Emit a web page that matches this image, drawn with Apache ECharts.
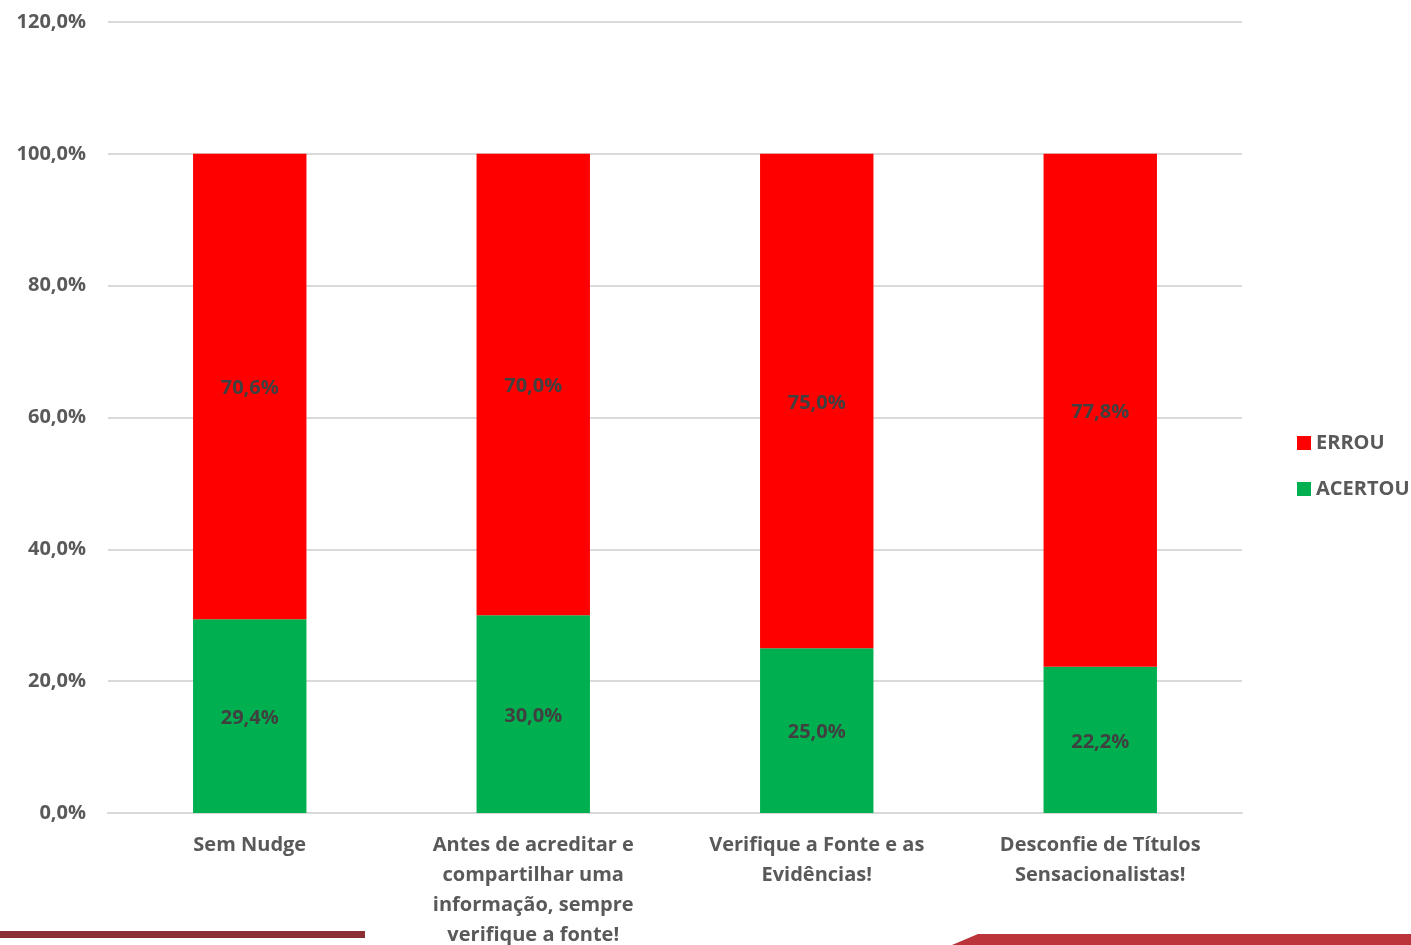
<!DOCTYPE html>
<html><head><meta charset="utf-8">
<script src="https://cdn.jsdelivr.net/npm/echarts@6/dist/echarts.min.js"></script>
<style>html,body{margin:0;padding:0;background:#fff}#c{width:1411px;height:945px}</style>
</head><body><div id="c"></div>
<script>
const categories = ['Sem Nudge', 'Antes de acreditar e\ncompartilhar uma\ninformação, sempre\nverifique a fonte!', 'Verifique a Fonte e as\nEvidências!', 'Desconfie de Títulos\nSensacionalistas!'];
const acertou = [29.4, 30.0, 25.0, 22.2];
const errou = [70.6, 70.0, 75.0, 77.8];
const yTicks = [0, 20, 40, 60, 80, 100, 120];

const fmt = v => v.toFixed(1).replace('.', ',') + '%';
const font = 'Open Sans';
const fs = 20;
const chart = echarts.init(document.getElementById('c'));
chart.setOption({
  animation: false,
  grid: { left: 108, right: 169, top: 22, bottom: 132, outerBoundsMode: 'none', containLabel: false },
  legend: {
    orient: 'vertical', left: 1292, top: 428, itemWidth: 14, itemHeight: 14, itemGap: 26,
    icon: 'rect',
    textStyle: { fontFamily: font, fontWeight: 'bold', fontSize: fs, color: '#595959' },
    data: ['ERROU', 'ACERTOU']
  },
  xAxis: {
    type: 'category', data: categories,
    axisLine: { lineStyle: { color: '#d9d9d9', width: 2 } },
    axisTick: { show: false },
    axisLabel: { fontFamily: font, fontWeight: 'bold', fontSize: fs, color: '#595959', lineHeight: 30, margin: 17, interval: 0 }
  },
  yAxis: {
    type: 'value', min: yTicks[0], max: yTicks[yTicks.length - 1], interval: 20,
    axisLine: { show: false }, axisTick: { show: false },
    splitLine: { lineStyle: { color: '#d9d9d9', width: 2 } },
    axisLabel: { fontFamily: font, fontWeight: 'bold', fontSize: fs, color: '#595959', margin: 22, formatter: v => fmt(v) }
  },
  series: [
    { name: 'ACERTOU', type: 'bar', stack: 's', data: acertou, barWidth: '40%',
      itemStyle: { color: '#00B050' },
      label: { show: true, position: 'inside', offset: [0, 2], formatter: p => fmt(p.value), fontFamily: font, fontWeight: 'bold', fontSize: fs, color: '#404040' } },
    { name: 'ERROU', type: 'bar', stack: 's', data: errou, barWidth: '40%',
      itemStyle: { color: '#FF0000' },
      label: { show: true, position: 'inside', offset: [0, 2], formatter: p => fmt(p.value), fontFamily: font, fontWeight: 'bold', fontSize: fs, color: '#404040' } }
  ],
  graphic: [
    { type: 'rect', shape: { x: 0, y: 931, width: 365, height: 7 }, style: { fill: '#8B2F35' } },
    { type: 'polygon', shape: { points: [[952, 945], [978, 934], [1411, 934], [1411, 945]] }, style: { fill: '#BA343A' } }
  ]
});
</script></body></html>
